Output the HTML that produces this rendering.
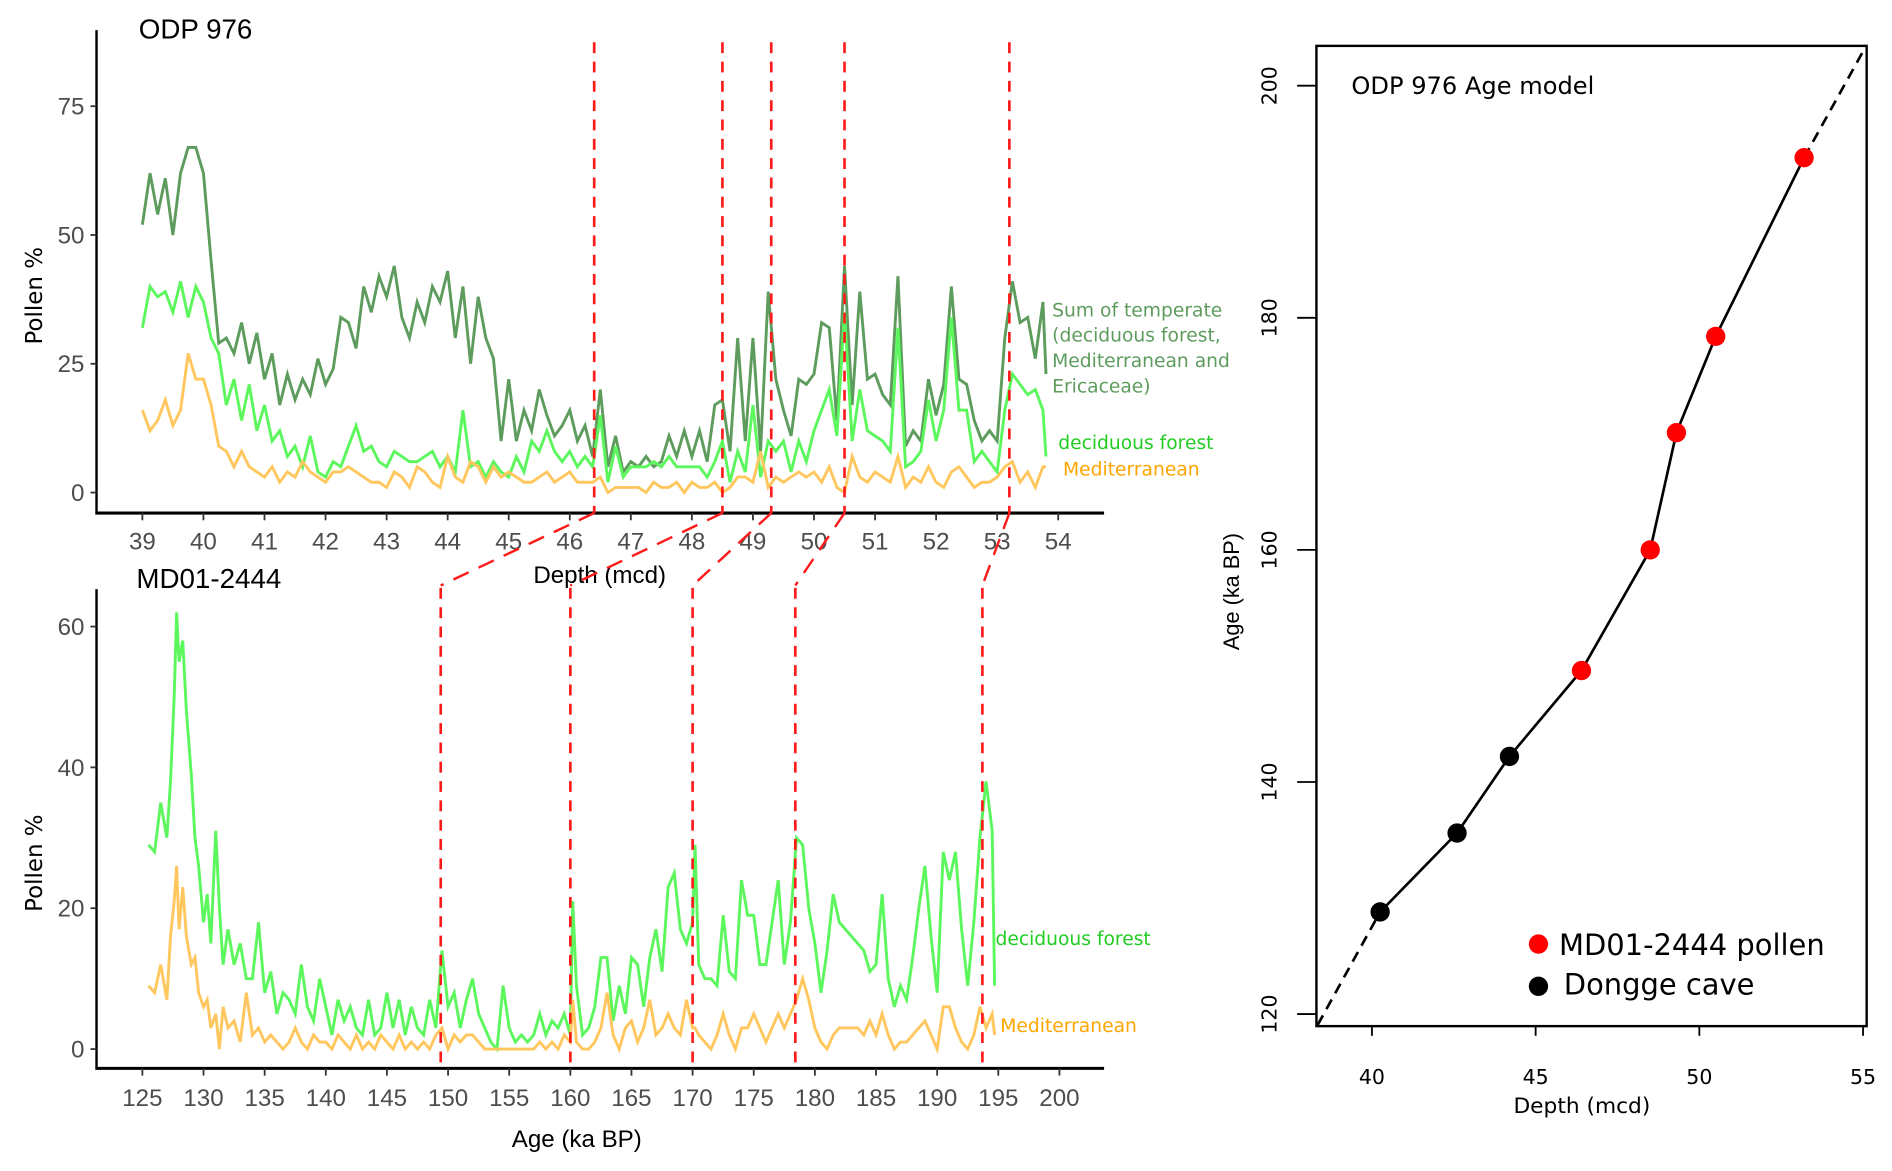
<!DOCTYPE html>
<html><head><meta charset="utf-8"><style>
html,body{margin:0;padding:0;background:#fff;}
svg{display:block;}
.n{font-family:"Liberation Sans Narrow","Liberation Sans",sans-serif;}
.d{font-family:"DejaVu Sans","Liberation Sans",sans-serif;}
</style></head><body>
<svg id="fig" width="1892" height="1171" viewBox="0 0 1568 970" preserveAspectRatio="none" xmlns="http://www.w3.org/2000/svg">
<g id="top"></g>
<g id="bot"></g>
<g id="right"></g>
</svg>
<script>
const depthTop=[39.0,39.125,39.25,39.375,39.5,39.625,39.75,39.875,40.0,40.125,40.25,40.375,40.5,40.625,40.75,40.875,41.0,41.125,41.25,41.375,41.5,41.625,41.75,41.875,42.0,42.125,42.25,42.375,42.5,42.625,42.75,42.875,43.0,43.125,43.25,43.375,43.5,43.625,43.75,43.875,44.0,44.125,44.25,44.375,44.5,44.625,44.75,44.875,45.0,45.125,45.25,45.375,45.5,45.625,45.75,45.875,46.0,46.125,46.25,46.375,46.5,46.625,46.75,46.875,47.0,47.125,47.25,47.375,47.5,47.625,47.75,47.875,48.0,48.125,48.25,48.375,48.5,48.625,48.75,48.875,49.0,49.125,49.25,49.375,49.5,49.625,49.75,49.875,50.0,50.125,50.25,50.375,50.5,50.625,50.75,50.875,51.0,51.125,51.25,51.375,51.5,51.625,51.75,51.875,52.0,52.125,52.25,52.375,52.5,52.625,52.75,52.875,53.0,53.125,53.25,53.375,53.5,53.625,53.75,53.8];
const sumTemperate=[52,62,54,61,50,62,67,67,62,45,29,30,27,33,25,31,22,27,17,23,18,22,19,26,21,24,34,33,28,40,35,42,38,44,34,30,37,33,40,37,43,30,40,25,38,30,26,10,22,10,16,12,20,15,11,13,16,10,13,7,20,5,11,4,6,5,7,5,6,11,7,12,7,12,6,17,18,8,30,10,30,8,39,22,16,11,22,21,23,33,32,14,44,17,39,22,23,19,17,42,9,12,10,22,15,21,40,22,21,14,10,12,10,30,41,33,34,26,37,23];
const deciduousTop=[32,40,38,39,35,41,34,40,37,30,27,17,22,14,21,12,17,10,12,7,9,5,11,4,3,6,5,9,13,8,9,6,5,8,7,6,6,7,8,5,7,4,16,5,6,3,6,4,3,7,4,10,8,12,8,6,8,5,7,5,15,2,9,3,5,5,5,6,5,7,5,5,5,5,3,6,10,2,8,4,17,3,10,8,10,4,10,6,12,16,20,11,35,10,20,12,11,10,8,32,5,6,8,18,10,16,34,16,16,6,8,6,4,16,23,21,19,20,16,7];
const mediterraneanTop=[16,12,14,18,13,16,27,22,22,17,9,8,5,8,5,4,3,5,2,4,3,6,4,3,2,4,4,5,4,3,2,2,1,4,3,1,5,4,2,1,7,3,2,6,5,2,5,3,4,3,2,2,3,4,2,3,4,2,2,2,3,0,1,1,1,1,0,2,1,1,2,0,2,1,1,2,0,1,3,3,2,8,1,3,2,3,4,3,4,2,5,1,0,7,3,2,4,3,2,7,1,3,2,5,2,1,4,5,3,1,2,2,3,5,6,2,4,1,5,5];
const topXTicks=[39,40,41,42,43,44,45,46,47,48,49,50,51,52,53,54];
const topYTicks=[0,25,50,75];
const tiePointsDepth=[46.4,48.5,49.3,50.5,53.2];

const ageBot=[125.5,126,126.5,127,127.3,127.6,127.8,128,128.3,128.6,129,129.3,129.6,130,130.3,130.6,131,131.3,131.6,132,132.5,133,133.5,134,134.5,135,135.5,136,136.5,137,137.5,138,138.5,139,139.5,140,140.5,141,141.5,142,142.5,143,143.5,144,144.5,145,145.5,146,146.5,147,147.5,148,148.5,149,149.5,150,150.5,151,151.5,152,152.5,153,153.5,154,154.5,155,155.5,156,156.5,157,157.5,158,158.5,159,159.5,160,160.2,160.5,161,161.5,162,162.5,163,163.5,164,164.5,165,165.5,166,166.5,167,167.5,168,168.5,169,169.5,170,170.2,170.5,171,171.5,172,172.5,173,173.5,174,174.5,175,175.5,176,176.5,177,177.5,178,178.5,179,179.5,180,180.5,181,181.5,182,182.5,183,183.5,184,184.5,185,185.5,186,186.5,187,187.5,188,188.5,189,189.5,190,190.5,191,191.5,192,192.5,193,193.5,194,194.5,194.7];
const deciduousBot=[29,28,35,30,38,50,62,55,58,48,39,30,26,18,22,15,31,20,12,17,12,15,10,10,18,8,11,5,8,7,5,12,6,4,10,6,2,7,4,6,3,2,7,2,3,8,3,7,2,6,3,2,7,3,14,6,8,3,7,10,5,3,1,0,9,3,1,2,1,2,5,2,4,3,5,2,21,9,2,3,6,13,13,4,9,5,13,12,6,13,17,11,23,25,17,15,18,29,12,10,10,9,19,11,10,24,19,19,12,12,18,24,12,18,30,29,20,15,8,14,22,18,17,16,15,14,11,12,22,10,6,9,7,13,20,26,16,8,28,24,28,17,9,18,30,38,31,9];
const mediterraneanBot=[9,8,12,7,16,21,26,17,23,16,12,13,8,6,7,3,5,0,6,3,4,1,8,2,3,1,2,1,0,1,3,1,0,2,1,1,0,2,1,0,2,0,1,0,2,1,0,2,0,1,0,1,0,2,3,0,2,1,2,2,1,0,0,0,0,0,0,0,0,0,1,0,1,0,2,1,7,1,0,0,1,3,8,2,0,3,4,1,3,7,2,3,5,3,2,7,3,3,2,1,0,2,5,2,0,3,3,5,3,1,3,5,3,5,7,10,7,3,1,0,2,3,3,3,3,2,4,2,5,2,0,1,1,2,3,4,2,0,6,6,3,1,0,2,6,3,5,2];
const botXTicks=[125,130,135,140,145,150,155,160,165,170,175,180,185,190,195,200];
const botYTicks=[0,20,40,60];
const tiePointsAge=[149.4,160,170,178.4,193.7];

const modelDepth=[40.25,42.6,44.2,46.4,48.5,49.3,50.5,53.2];
const modelAge=[128.8,135.6,142.2,149.6,160,170.1,178.4,193.8];
const modelSource=["cave","cave","cave","pollen","pollen","pollen","pollen","pollen"];
const rightXTicks=[40,45,50,55];
const rightYTicks=[120,140,160,180,200];

const NS="http://www.w3.org/2000/svg";
function mk(parent,tag,attrs,text){const e=document.createElementNS(NS,tag);for(const k in attrs)e.setAttribute(k,attrs[k]);if(text!==undefined)e.textContent=text;parent.appendChild(e);return e;}
function pathFrom(xs,ys,fx,fy){let d="";const n=Math.min(xs.length,ys.length);for(let i=0;i<n;i++)d+=(i?"L":"M")+fx(xs[i]).toFixed(2)+","+fy(ys[i]).toFixed(2);return d;}

// ---------- top panel ----------
const T=document.getElementById('top');
const tx=v=>118+(v-39)*(877-118)/15;
const ty=v=>408-v*(408-88)/75;
let e;
e=mk(T,'line',{x1:80,y1:25,x2:80,y2:425,stroke:'#000','stroke-width':2});

e=mk(T,'line',{x1:79,y1:425,x2:915,y2:425,stroke:'#000','stroke-width':2.5});

topYTicks.forEach(v=>{mk(T,'line',{x1:75,x2:80,y1:ty(v),y2:ty(v),stroke:'#333','stroke-width':1.5});
 e=mk(T,'text',{x:70,y:ty(v)+7,'text-anchor':'end','font-size':20,fill:'#4d4d4d',class:'n'},v);
 });
topXTicks.forEach(v=>{mk(T,'line',{x1:tx(v),x2:tx(v),y1:425,y2:431,stroke:'#333','stroke-width':1.5});
 e=mk(T,'text',{x:tx(v),y:455,'text-anchor':'middle','font-size':20,fill:'#4d4d4d',class:'n'},v);
 });
e=mk(T,'path',{d:pathFrom(depthTop,sumTemperate,tx,ty),fill:'none',stroke:'#5e9c5e','stroke-width':2.4});

e=mk(T,'path',{d:pathFrom(depthTop,deciduousTop,tx,ty),fill:'none',stroke:'#5cf75c','stroke-width':2.4});

e=mk(T,'path',{d:pathFrom(depthTop,mediterraneanTop,tx,ty),fill:'none',stroke:'#ffc75e','stroke-width':2.4});

e=mk(T,'text',{x:115,y:32,'font-size':23,fill:'#000',class:'n'},'ODP 976');

e=mk(T,'text',{x:35,y:245,'font-size':19,fill:'#000','text-anchor':'middle',class:'d',transform:'rotate(-90 35 245)'},'Pollen %');

e=mk(T,'text',{x:497,y:483,'font-size':20,fill:'#000','text-anchor':'middle',class:'n'},'Depth (mcd)');

['Sum of temperate','(deciduous forest,','Mediterranean and','Ericaceae)'].forEach((s,i)=>{
 e=mk(T,'text',{x:872,y:262+i*21,'font-size':15.5,fill:'#5e9c5e',class:'d'},s);
 });
e=mk(T,'text',{x:877,y:372,'font-size':15.5,fill:'#22cc22',class:'d'},'deciduous forest');

e=mk(T,'text',{x:881,y:394,'font-size':15.5,fill:'#ffa500',class:'d'},'Mediterranean');


// ---------- bottom panel ----------
const B=document.getElementById('bot');
const bx=v=>118+(v-125)*(878-118)/75;
const by=v=>869-v*(869-519)/60;
e=mk(B,'line',{x1:80,y1:488,x2:80,y2:885,stroke:'#000','stroke-width':2});

e=mk(B,'line',{x1:79,y1:885,x2:915,y2:885,stroke:'#000','stroke-width':2.5});

botYTicks.forEach(v=>{mk(B,'line',{x1:75,x2:80,y1:by(v),y2:by(v),stroke:'#333','stroke-width':1.5});
 e=mk(B,'text',{x:70,y:by(v)+7,'text-anchor':'end','font-size':20,fill:'#4d4d4d',class:'n'},v);
 });
botXTicks.forEach(v=>{mk(B,'line',{x1:bx(v),x2:bx(v),y1:885,y2:891,stroke:'#333','stroke-width':1.5});
 e=mk(B,'text',{x:bx(v),y:916,'text-anchor':'middle','font-size':20,fill:'#4d4d4d',class:'n'},v);
 });
e=mk(B,'path',{d:pathFrom(ageBot,deciduousBot,bx,by),fill:'none',stroke:'#5cf75c','stroke-width':2.4});

e=mk(B,'path',{d:pathFrom(ageBot,mediterraneanBot,bx,by),fill:'none',stroke:'#ffc75e','stroke-width':2.4});

e=mk(B,'text',{x:113,y:487,'font-size':23,fill:'#000',class:'n'},'MD01-2444');

e=mk(B,'text',{x:35,y:715,'font-size':19,fill:'#000','text-anchor':'middle',class:'d',transform:'rotate(-90 35 715)'},'Pollen %');

e=mk(B,'text',{x:478,y:950,'font-size':20,fill:'#000','text-anchor':'middle',class:'n'},'Age (ka BP)');

e=mk(B,'text',{x:825,y:783,'font-size':15.5,fill:'#22cc22',class:'d'},'deciduous forest');

e=mk(B,'text',{x:829,y:855,'font-size':15.5,fill:'#ffa500',class:'d'},'Mediterranean');


// tie lines
for(let i=0;i<tiePointsDepth.length;i++){
 const xt=tx(tiePointsDepth[i]), xb=bx(tiePointsAge[i]);
 e=mk(T,'line',{x1:xt,x2:xt,y1:35,y2:425,stroke:'#ff1a1a','stroke-width':2.2,'stroke-dasharray':'9 7'});
 
 e=mk(B,'line',{x1:xt,y1:425,x2:xb,y2:485,stroke:'#ff1a1a','stroke-width':2,'stroke-dasharray':'14 9'});
 
 e=mk(B,'line',{x1:xb,x2:xb,y1:487,y2:885,stroke:'#ff1a1a','stroke-width':2.2,'stroke-dasharray':'9 7'});
 
}

// ---------- right panel ----------
const R=document.getElementById('right');
const rx=v=>1137+(v-40)*(1544-1137)/15;
const ry=v=>840-(v-120)*(840-71)/80;
e=mk(R,'rect',{x:1091,y:38,width:456,height:812,fill:'none',stroke:'#000','stroke-width':2});

rightYTicks.forEach(v=>{mk(R,'line',{x1:1075,x2:1091,y1:ry(v),y2:ry(v),stroke:'#000','stroke-width':1.5});
 e=mk(R,'text',{x:1058,y:ry(v),'text-anchor':'middle','font-size':17,fill:'#000',class:'d',transform:`rotate(-90 1058 ${ry(v)})`},v);
 });
rightXTicks.forEach(v=>{mk(R,'line',{x1:rx(v),x2:rx(v),y1:850,y2:858,stroke:'#000','stroke-width':1.5});
 e=mk(R,'text',{x:rx(v),y:898,'text-anchor':'middle','font-size':17,fill:'#000',class:'d'},v);
 });
e=mk(R,'text',{x:1311,y:922,'text-anchor':'middle','font-size':18,fill:'#000',class:'d'},'Depth (mcd)');

e=mk(R,'text',{x:1027,y:490,'text-anchor':'middle','font-size':18,fill:'#000',class:'n',transform:'rotate(-90 1027 490)'},'Age (ka BP)');

e=mk(R,'text',{x:1120,y:78,'font-size':20,fill:'#000',class:'d'},'ODP 976 Age model');

const n=modelDepth.length;
e=mk(R,'line',{x1:1092,y1:849,x2:rx(modelDepth[0]),y2:ry(modelAge[0]),stroke:'#000','stroke-width':2.2,'stroke-dasharray':'9 6'});

e=mk(R,'line',{x1:rx(modelDepth[n-1]),y1:ry(modelAge[n-1]),x2:1546,y2:39,stroke:'#000','stroke-width':2.2,'stroke-dasharray':'9 6'});

e=mk(R,'path',{d:pathFrom(modelDepth,modelAge,rx,ry),fill:'none',stroke:'#000','stroke-width':2.2});

for(let i=0;i<n;i++){
 e=mk(R,'circle',{cx:rx(modelDepth[i]),cy:ry(modelAge[i]),r:8,fill:modelSource[i]==='pollen'?'#ff0000':'#000'});
 
 
}
e=mk(R,'circle',{cx:1275,cy:782,r:8,fill:'#ff0000'});

e=mk(R,'text',{x:1292,y:791,'font-size':24,fill:'#000',class:'d'},'MD01-2444 pollen');

e=mk(R,'circle',{cx:1275,cy:817,r:8,fill:'#000'});

e=mk(R,'text',{x:1296,y:824,'font-size':24,fill:'#000',class:'d'},'Dongge cave');

</script>
</body></html>
